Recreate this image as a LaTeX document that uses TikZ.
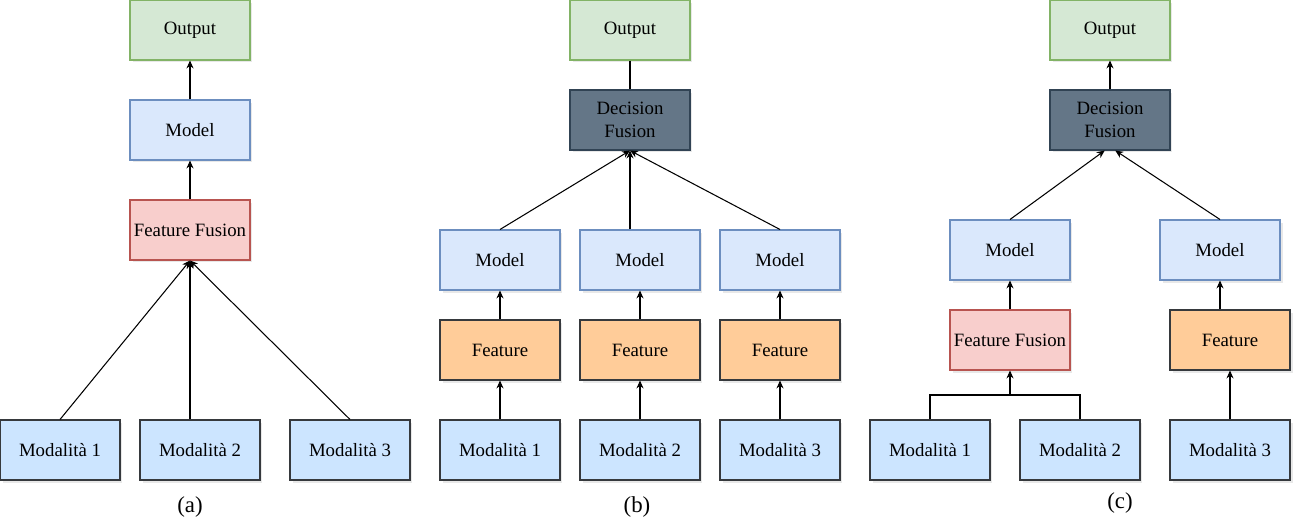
\documentclass[tikz,border=0pt]{standalone}
\usepackage{fontspec}
\setmainfont{Liberation Serif}
\usetikzlibrary{arrows.meta,shadows,positioning}

\definecolor{outfill}{HTML}{D5E8D4}
\definecolor{outline}{HTML}{82B366}
\definecolor{modelfill}{HTML}{DAE8FC}
\definecolor{modelline}{HTML}{6C8EBF}
\definecolor{fusefill}{HTML}{F8CECC}
\definecolor{fuseline}{HTML}{B85450}
\definecolor{decfill}{HTML}{647687}
\definecolor{decline}{HTML}{314354}
\definecolor{featfill}{HTML}{FFCC99}
\definecolor{darkline}{HTML}{36393D}
\definecolor{modfill}{HTML}{CCE5FF}

\tikzset{
  box/.style={draw,line width=0.6pt,minimum height=1.2cm,minimum width=2.4cm,inner sep=0pt,
    align=center,font=\fontsize{10.7}{12.8}\selectfont,
    drop shadow={opacity=0.18,shadow xshift=0.05cm,shadow yshift=-0.05cm}},
  outbox/.style={box,fill=outfill,draw=outline},
  modelbox/.style={box,fill=modelfill,draw=modelline},
  fusebox/.style={box,fill=fusefill,draw=fuseline},
  decbox/.style={box,fill=decfill,draw=decline},
  featbox/.style={box,fill=featfill,draw=darkline},
  modbox/.style={box,fill=modfill,draw=darkline},
  caption/.style={font=\fontsize{13}{15}\selectfont,inner sep=0pt},
  link/.style={line width=0.6pt},
  arr/.style={link,-{Stealth[length=4.5pt,width=4pt]}}
}

\begin{document}
\begin{tikzpicture}[x=0.02cm,y=-0.02cm]
\useasboundingbox (0,0) rectangle (1302,528);

% (a) feature fusion
\node[outbox](Oa) at (190,30){Output};
\node[modelbox](Ma) at (190,130){Model};
\node[fusebox](Fa) at (190,230){Feature Fusion};
\foreach \x [count=\n] in {60,200,350}
  \node[modbox](Ra\n) at (\x,450){Modalità \n};
\node[caption](Ca) at (190,507){(a)};

\draw[arr] (Ma.north) -- (Oa.south);
\draw[arr] (Fa.north) -- (Ma.south);
\draw[arr] (Ra1.north) -- (Fa.south);
\draw[arr] (Fa.south |- Ra2.north) -- (Fa.south);
\draw[arr] (Ra3.north) -- (Fa.south);

% (b) decision fusion
\node[outbox](Ob) at (630,30){Output};
\node[decbox](Db) at (630,120){Decision\\Fusion};
\foreach \x [count=\n] in {500,640,780}
  {
  \node[modelbox](Mb\n) at (\x,260){Model};
  \node[featbox](Fb\n) at (\x,350){Feature};
  \node[modbox](Rb\n) at (\x,450){Modalità \n};
  \draw[arr] (Fb\n.north) -- (Mb\n.south);
  \draw[arr] (Rb\n.north) -- (Fb\n.south);
  }
\node[caption](Cb) at (637,507){(b)};

\draw[link] (Ob.south) -- (Db.north);
\draw[arr] (Mb1.north) -- (Db.south);
\draw[arr] (Db.south |- Mb2.north) -- (Db.south);
\draw[arr] (Mb3.north) -- (Db.south);

% (c) hybrid fusion
\node[outbox](Oc) at (1110,30){Output};
\node[decbox](Dc) at (1110,120){Decision\\Fusion};
\node[modelbox](Mc1) at (1010,250){Model};
\node[modelbox](Mc2) at (1220,250){Model};
\node[fusebox](Fc1) at (1010,340){Feature Fusion};
\node[featbox](Fc2) at (1230,340){Feature};
\foreach \x [count=\n] in {930,1080,1230}
  \node[modbox](Rc\n) at (\x,450){Modalità \n};
\node[caption](Cc) at (1120,503){(c)};
\coordinate (J) at (1010,395);

\draw[arr] (Dc.north) -- (Oc.south);
\draw[arr] (Mc1.north) -- ([xshift=-3]Dc.south);
\draw[arr] (Mc2.north) -- ([xshift=3]Dc.south);
\draw[arr] (Fc1.north) -- (Mc1.south);
\draw[arr] (Mc2.south |- Fc2.north) -- (Mc2.south);
\draw[arr] (Rc3.north) -- (Fc2.south);
\draw[link] (Rc1.north) |- (J) -| (Rc2.north);
\draw[arr] (J) -- (Fc1.south);
\end{tikzpicture}
\end{document}
